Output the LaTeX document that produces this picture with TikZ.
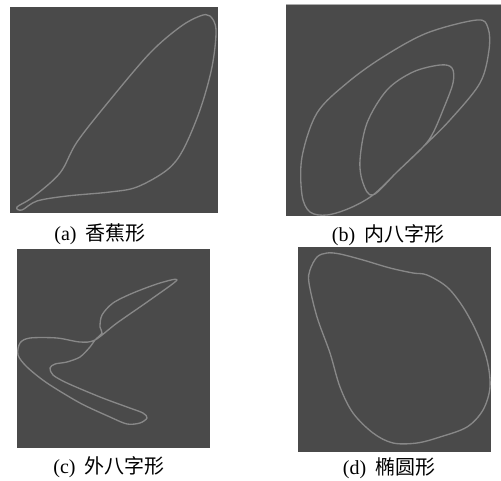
\documentclass[tikz,border=0pt]{standalone}
\usepackage{fontspec}
\setmainfont{Liberation Serif}
\newfontfamily\cjk{Noto Sans CJK SC}
\begin{document}
\begin{tikzpicture}[x=0.75pt,y=-0.75pt,
  panel/.style={fill=panelgray,draw=none},
  curve/.style={draw=curvegray,line width=1pt,line join=round},
  captext/.style={font=\fontsize{15pt}{17pt}\selectfont,inner sep=0pt,anchor=center}]
\definecolor{panelgray}{HTML}{4A4A4A}
\definecolor{curvegray}{HTML}{888888}
\useasboundingbox (0,0) rectangle (501,481);
% panels
\fill[panel] (10,7) rectangle (218,213);
\fill[panel] (286,4) rectangle (501,216);
\draw[curvegray!70,line width=0.8pt] (286,4.4) -- (501,4.4);
\fill[panel] (17,249) rectangle (210,448);
\fill[panel] (298,247) rectangle (491,452);
% (a) banana
\draw[curve] plot[smooth cycle,tension=0.55] coordinates {
 (17,207) (33,197) (60,173) (77,142) (110,100) (150,53) (180,27) (200,16) (210,16)
 (216,30) (212,67) (200,110) (183,150) (167,170) (137,187) (110,192) (67,196)
 (37,201) (22,210)};
% (b) inner figure eight
\draw[curve] plot[smooth cycle,tension=0.55] coordinates {
 (373,195) (350,208) (327,215) (310,212) (302,195) (302,157) (317,113) (347,83)
 (383,57) (427,33) (477,20) (488,28) (489,50) (480,83) (450,120) (423,147)
 (397,172) (373,195) (363,183) (360,160) (367,123) (387,90) (413,72) (440,65)
 (452,68) (453,83) (443,110) (433,133) (423,147) (397,172)};
% (c) outer figure eight
\draw[curve] plot[smooth cycle,tension=0.5] coordinates {
 (177,280) (160,283) (133,293) (113,303) (102,315) (100,327) (102,333) (95,340)
 (90,347) (80,357) (67,362) (55,364) (50,368) (53,375) (67,383) (100,397)
 (127,407) (143,413) (147,418) (140,423) (127,424) (110,417) (80,403) (47,383)
 (27,367) (18,355) (20,343) (30,338) (57,338) (80,342) (95,340) (117,323)
 (150,300)};
% (d) ellipse
\draw[curve] plot[smooth cycle,tension=0.55] coordinates {
 (327,253) (317,257) (310,270) (309,283) (317,317) (330,353) (340,387) (353,413)
 (373,433) (393,443) (417,443) (440,437) (467,427) (483,410) (490,387) (487,360)
 (477,333) (463,307) (447,287) (427,275) (413,273) (390,268) (363,260) (340,254)};
% captions
\node[captext] (capa) at (100,234) {(a)\hspace{0.45em}{\cjk 香蕉形}};
\node[captext] (capb) at (388,235) {(b)\hspace{0.45em}{\cjk 内八字形}};
\node[captext] (capc) at (109,467) {(c)\hspace{0.45em}{\cjk 外八字形}};
\node[captext] (capd) at (389,468) {(d)\hspace{0.45em}{\cjk 椭圆形}};
\end{tikzpicture}
\end{document}
